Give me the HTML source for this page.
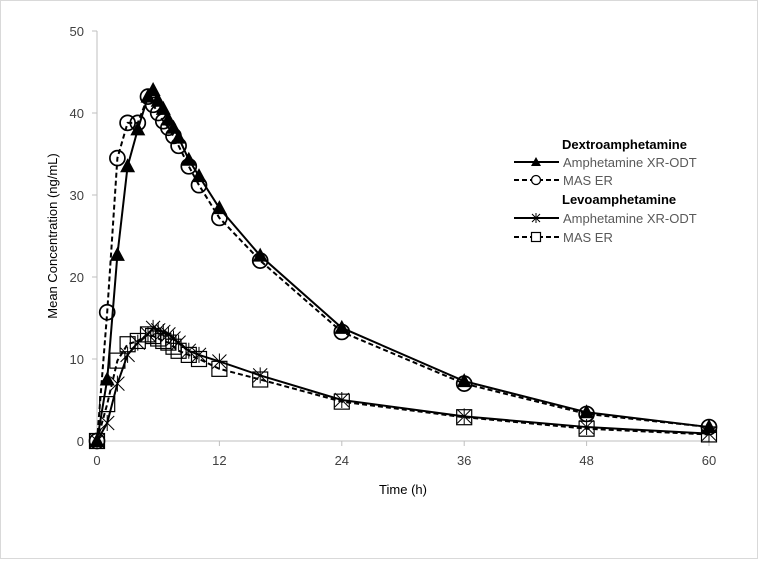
<!DOCTYPE html>
<html><head><meta charset="utf-8"><style>
body{margin:0;background:#fff}
svg{font-family:"Liberation Sans",sans-serif}
</style></head><body>
<svg width="758" height="559">
<rect x="0.5" y="0.5" width="757" height="558" fill="#fff" stroke="#d9d9d9"/>
<g id="axes"></g>
<g id="series"></g>
<g id="legend"></g>
</svg>
<script>
const timesA=[0,1,2,3,4,5,5.5,6,6.5,7,7.5,8,9,10,12,16,24,36,48,60];
const dextroXR=[0,7.5,22.7,33.5,38,42,42.8,41.5,40.5,39.2,38.2,37,34.3,32.3,28.4,22.6,13.8,7.3,3.5,1.7];
const dextroMAS=[0,15.7,34.5,38.8,38.8,42,41,40,39,38.2,37.2,36,33.5,31.2,27.2,22,13.3,7,3.3,1.7];
const levoXR=[0,2.2,7,10.5,12,13,13.8,13.5,13.3,13,12.5,12,11,10.5,9.7,8,5,3,1.7,0.9];
const levoMAS=[0,4.5,9.8,11.8,12.2,13,12.8,12.5,12.2,12,11.5,11,10.5,10,8.8,7.5,4.8,2.9,1.5,0.8];
const xTicks=[0,12,24,36,48,60];
const yTicks=[0,10,20,30,40,50];
const NS="http://www.w3.org/2000/svg";
const X=t=>97+t*(709-97)/60;
const Y=v=>441-v*(441-31)/50;
function mk(tag,attrs,parent){const e=document.createElementNS(NS,tag);for(const k in attrs)e.setAttribute(k,attrs[k]);parent.appendChild(e);return e;}
const axes=document.getElementById('axes');
let e=mk('line',{x1:X(0),y1:Y(0),x2:X(60),y2:Y(0),stroke:'#bfbfbf'},axes);


e=mk('line',{x1:X(0),y1:Y(0),x2:X(0),y2:Y(50),stroke:'#bfbfbf'},axes);


xTicks.forEach(t=>{
 mk('line',{x1:X(t),y1:Y(0),x2:X(t),y2:Y(0)+5,stroke:'#bfbfbf'},axes);
 const tx=mk('text',{x:X(t),y:465,'text-anchor':'middle','font-size':13,fill:'#404040'},axes);
 tx.textContent=t;
 
 
});
yTicks.forEach(v=>{
 mk('line',{x1:X(0)-5,y1:Y(v),x2:X(0),y2:Y(v),stroke:'#bfbfbf'},axes);
 const tx=mk('text',{x:84,y:Y(v)+5,'text-anchor':'end','font-size':13,fill:'#404040'},axes);
 tx.textContent=v;
 
 
});
e=mk('text',{x:403,y:494,'text-anchor':'middle','font-size':13,fill:'#000'},axes);
e.textContent='Time (h)';


e=mk('text',{x:0,y:0,'text-anchor':'middle','font-size':13,fill:'#000',transform:'translate(57,236) rotate(-90)'},axes);
e.textContent='Mean Concentration (ng/mL)';



function marker(type,cx,cy,g){
 if(type==='tri')mk('polygon',{points:`${cx},${cy-8} ${cx-7.5},${cy+6} ${cx+7.5},${cy+6}`,fill:'#000'},g);
 else if(type==='circ')mk('circle',{cx:cx,cy:cy,r:7.5,fill:'none',stroke:'#000','stroke-width':1.7},g);
 else if(type==='sq')mk('rect',{x:cx-7.5,y:cy-7.5,width:15,height:15,fill:'none',stroke:'#000','stroke-width':1.2},g);
 else if(type==='star'){const p=`M${cx-7},${cy-7}L${cx+7},${cy+7}M${cx-7},${cy+7}L${cx+7},${cy-7}M${cx},${cy-8}L${cx},${cy+8}`;mk('path',{d:p,stroke:'#000','stroke-width':1,fill:'none'},g);}
}
const seriesG=document.getElementById('series');
const defs=[
 {name:'series-levo-xr',vals:levoXR,dash:null,m:'star'},
 {name:'series-levo-mas',vals:levoMAS,dash:'5,3',m:'sq'},
 {name:'series-dextro-mas',vals:dextroMAS,dash:'5,3',m:'circ'},
 {name:'series-dextro-xr',vals:dextroXR,dash:null,m:'tri'}
];
defs.forEach(s=>{
 const g=mk('g',{},seriesG);
 
 
 const d=s.vals.map((v,i)=>(i?'L':'M')+X(timesA[i])+','+Y(v)).join('');
 const a={d:d,fill:'none',stroke:'#000','stroke-width':2};
 if(s.dash)a['stroke-dasharray']=s.dash;
 mk('path',a,g);
 s.vals.forEach((v,i)=>marker(s.m,X(timesA[i]),Y(v),g));
});
const lg=document.getElementById('legend');


const rows=[
 {y:144,head:'Dextroamphetamine'},
 {y:162,label:'Amphetamine XR-ODT',m:'tri',dash:null},
 {y:180,label:'MAS ER',m:'circ',dash:'5,3'},
 {y:199,head:'Levoamphetamine'},
 {y:218,label:'Amphetamine XR-ODT',m:'star',dash:null},
 {y:237,label:'MAS ER',m:'sq',dash:'5,3'}
];
rows.forEach(r=>{
 const g=mk('g',{},lg);
 if(r.head){
  
  
  const t=mk('text',{x:562,y:r.y+5,'font-size':13,'font-weight':'bold',fill:'#000'},g);t.textContent=r.head;
 }else{
  
  
  const a={x1:514,y1:r.y,x2:559,y2:r.y,stroke:'#000','stroke-width':2};
  if(r.dash)a['stroke-dasharray']=r.dash;
  mk('line',a,g);
  const cy=r.y;
  if(r.m==='tri')mk('polygon',{points:`536,${cy-5} 531,${cy+4} 541,${cy+4}`,fill:'#000'},g);
  else if(r.m==='circ')mk('circle',{cx:536,cy:cy,r:4.5,fill:'#fff',stroke:'#000','stroke-width':1.3},g);
  else if(r.m==='sq')mk('rect',{x:531.5,y:cy-4.5,width:9,height:9,fill:'#fff',stroke:'#000','stroke-width':1.2},g);
  else mk('path',{d:`M532,${cy-4}L540,${cy+4}M532,${cy+4}L540,${cy-4}M536,${cy-5}L536,${cy+5}`,stroke:'#000','stroke-width':1},g);
  const t=mk('text',{x:563,y:r.y+5,'font-size':13,fill:'#595959'},g);t.textContent=r.label;
 }
});
</script>
</body></html>
